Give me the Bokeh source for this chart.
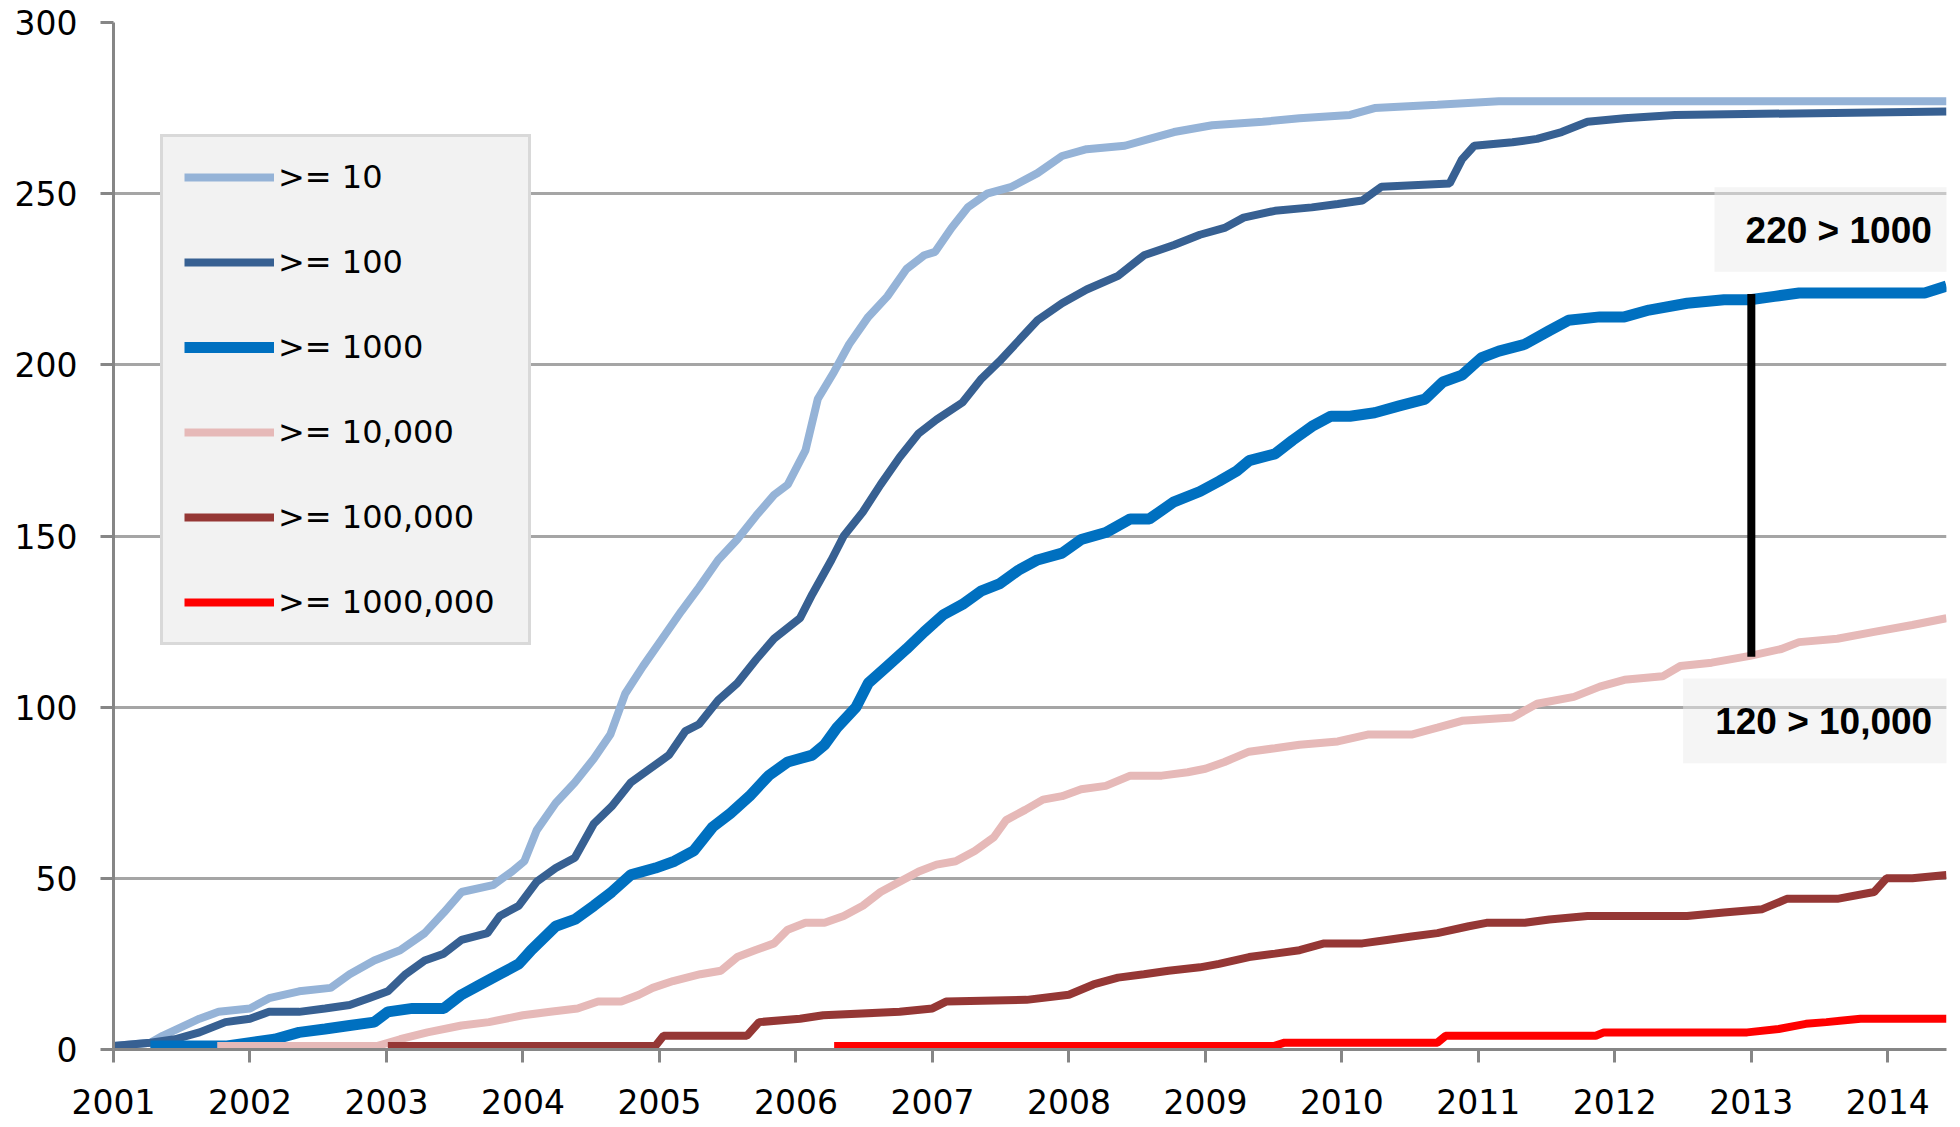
from bokeh.plotting import figure
from bokeh.models import Legend, LegendItem, FixedTicker, Range1d, Label
from bokeh.embed import file_html
from bokeh.resources import INLINE

# ---------------- data (year, count) ----------------
S10 = [(2001.00, 1), (2001.27, 2), (2001.36, 4), (2001.63, 9), (2001.77, 11), (2002.00, 12),
       (2002.14, 15), (2002.36, 17), (2002.59, 18), (2002.73, 22), (2002.91, 26), (2003.10, 29),
       (2003.28, 34), (2003.42, 40), (2003.55, 46), (2003.78, 48), (2003.92, 52), (2004.01, 55),
       (2004.10, 64), (2004.24, 72), (2004.38, 78), (2004.52, 85), (2004.64, 92), (2004.75, 104),
       (2004.88, 112), (2005.02, 120), (2005.16, 128), (2005.29, 135), (2005.43, 143), (2005.57, 149),
       (2005.71, 156), (2005.84, 162), (2005.94, 165), (2006.07, 175), (2006.16, 190), (2006.28, 198),
       (2006.39, 206), (2006.53, 214), (2006.67, 220), (2006.81, 228), (2006.94, 232), (2007.02, 233),
       (2007.14, 240), (2007.26, 246), (2007.40, 250), (2007.58, 252), (2007.77, 256), (2007.95, 261),
       (2008.13, 263), (2008.41, 264), (2008.59, 266), (2008.77, 268), (2009.05, 270), (2009.42, 271),
       (2009.69, 272), (2010.06, 273), (2010.24, 275), (2010.70, 276), (2011.15, 277), (2014.43, 277)]

S100 = [(2001.00, 1), (2001.27, 2), (2001.45, 3), (2001.63, 5), (2001.82, 8), (2002.00, 9),
        (2002.14, 11), (2002.36, 11), (2002.55, 12), (2002.73, 13), (2002.87, 15), (2003.01, 17),
        (2003.14, 22), (2003.28, 26), (2003.42, 28), (2003.55, 32), (2003.74, 34), (2003.83, 39),
        (2003.97, 42), (2004.10, 49), (2004.24, 53), (2004.38, 56), (2004.52, 66), (2004.65, 71),
        (2004.79, 78), (2004.93, 82), (2005.07, 86), (2005.19, 93), (2005.29, 95), (2005.43, 102),
        (2005.57, 107), (2005.71, 114), (2005.84, 120), (2006.03, 126), (2006.12, 133), (2006.26, 143),
        (2006.35, 150), (2006.49, 157), (2006.62, 165), (2006.76, 173), (2006.90, 180), (2007.03, 184),
        (2007.22, 189), (2007.36, 196), (2007.49, 201), (2007.63, 207), (2007.77, 213), (2007.95, 218),
        (2008.13, 222), (2008.36, 226), (2008.55, 232), (2008.77, 235), (2008.96, 238), (2009.14, 240),
        (2009.28, 243), (2009.51, 245), (2009.78, 246), (2009.97, 247), (2010.15, 248), (2010.29, 252),
        (2010.79, 253), (2010.88, 260), (2010.97, 264), (2011.25, 265), (2011.43, 266), (2011.61, 268),
        (2011.80, 271), (2012.07, 272), (2012.44, 273), (2014.43, 274)]

S1000 = [(2001.27, 1), (2001.82, 1), (2002.00, 2), (2002.18, 3), (2002.36, 5), (2002.55, 6),
         (2002.73, 7), (2002.91, 8), (2003.01, 11), (2003.19, 12), (2003.42, 12), (2003.55, 16),
         (2003.69, 19), (2003.83, 22), (2003.97, 25), (2004.06, 29), (2004.24, 36), (2004.38, 38),
         (2004.52, 42), (2004.65, 46), (2004.79, 51), (2004.97, 53), (2005.11, 55), (2005.25, 58),
         (2005.39, 65), (2005.52, 69), (2005.66, 74), (2005.80, 80), (2005.94, 84), (2006.12, 86),
         (2006.21, 89), (2006.30, 94), (2006.44, 100), (2006.53, 107), (2006.67, 112), (2006.81, 117),
         (2006.94, 122), (2007.08, 127), (2007.22, 130), (2007.36, 134), (2007.49, 136), (2007.63, 140),
         (2007.77, 143), (2007.95, 145), (2008.09, 149), (2008.27, 151), (2008.45, 155), (2008.59, 155),
         (2008.77, 160), (2008.96, 163), (2009.10, 166), (2009.23, 169), (2009.32, 172), (2009.51, 174),
         (2009.64, 178), (2009.78, 182), (2009.92, 185), (2010.06, 185), (2010.24, 186), (2010.42, 188),
         (2010.61, 190), (2010.74, 195), (2010.88, 197), (2011.02, 202), (2011.15, 204), (2011.34, 206),
         (2011.52, 210), (2011.66, 213), (2011.89, 214), (2012.07, 214), (2012.25, 216), (2012.53, 218),
         (2012.80, 219), (2012.99, 219), (2013.17, 220), (2013.35, 221), (2013.54, 221), (2013.90, 221),
         (2014.27, 221), (2014.43, 223)]

S10K = [(2001.76, 1), (2002.93, 1), (2003.10, 3), (2003.30, 5), (2003.55, 7), (2003.75, 8),
        (2004.00, 10), (2004.20, 11), (2004.40, 12), (2004.55, 14), (2004.72, 14), (2004.85, 16),
        (2004.95, 18), (2005.10, 20), (2005.30, 22), (2005.45, 23), (2005.57, 27), (2005.70, 29),
        (2005.84, 31), (2005.94, 35), (2006.07, 37), (2006.21, 37), (2006.35, 39), (2006.49, 42),
        (2006.62, 46), (2006.76, 49), (2006.90, 52), (2007.03, 54), (2007.17, 55), (2007.31, 58),
        (2007.45, 62), (2007.54, 67), (2007.68, 70), (2007.81, 73), (2007.95, 74), (2008.09, 76),
        (2008.27, 77), (2008.45, 80), (2008.68, 80), (2008.87, 81), (2009.00, 82), (2009.14, 84),
        (2009.32, 87), (2009.51, 88), (2009.69, 89), (2009.97, 90), (2010.19, 92), (2010.51, 92),
        (2010.70, 94), (2010.88, 96), (2011.25, 97), (2011.43, 101), (2011.70, 103), (2011.89, 106),
        (2012.07, 108), (2012.35, 109), (2012.48, 112), (2012.71, 113), (2012.99, 115), (2013.22, 117),
        (2013.35, 119), (2013.63, 120), (2013.90, 122), (2014.18, 124), (2014.43, 126)]

S100K = [(2003.01, 1), (2004.97, 1), (2005.03, 4), (2005.64, 4), (2005.73, 8), (2006.03, 9),
         (2006.20, 10), (2006.76, 11), (2007.00, 12), (2007.10, 14), (2007.69, 14.5), (2008.00, 16),
         (2008.18, 19), (2008.36, 21), (2008.55, 22), (2008.73, 23), (2008.96, 24), (2009.10, 25),
         (2009.32, 27), (2009.51, 28), (2009.69, 29), (2009.87, 31), (2010.15, 31), (2010.33, 32),
         (2010.51, 33), (2010.70, 34), (2010.93, 36), (2011.06, 37), (2011.34, 37), (2011.52, 38),
         (2011.80, 39), (2012.07, 39), (2012.53, 39), (2012.80, 40), (2013.08, 41), (2013.26, 44),
         (2013.63, 44), (2013.90, 46), (2013.99, 50), (2014.18, 50), (2014.43, 51)]

S1M = [(2006.28, 1), (2009.50, 1), (2009.58, 2), (2010.70, 2), (2010.76, 4), (2011.86, 4),
       (2011.92, 5), (2012.97, 5), (2013.20, 6), (2013.40, 7.5), (2013.55, 8), (2013.80, 9),
       (2014.43, 9)]

SERIES = [S10, S100, S1000, S10K, S100K, S1M]
LABELS = [">= 10", ">= 100", ">= 1000", ">= 10,000", ">= 100,000", ">= 1000,000"]
COLORS = ["#95B3D7", "#376092", "#0070C0", "#E6B9B8", "#953735", "#FF0000"]
WIDTHS = [8, 8, 11, 8, 8, 8]

X_TICKS = list(range(2001, 2015))
Y_TICKS = [0, 50, 100, 150, 200, 250, 300]

# annotation: gap between >=1000 and >=10,000 in 2013
GAP_YEAR = 2013.0
GAP_TOP = 220.7
GAP_BOTTOM = 114.7
NOTE_TOP_TEXT = "220 > 1000"
NOTE_BOTTOM_TEXT = "120 > 10,000"

# ---------------- figure ----------------
p = figure(width=1952, height=1126,
           x_range=Range1d(2001, 2014.43), y_range=Range1d(0, 300),
           output_backend="svg", toolbar_location=None,
           min_border_left=113, min_border_right=6,
           min_border_top=22, min_border_bottom=77)

p.outline_line_color = None
p.background_fill_color = "white"
p.border_fill_color = "white"

p.xgrid.grid_line_color = None
p.ygrid.ticker = FixedTicker(ticks=Y_TICKS)
p.ygrid.grid_line_color = "#A5A5A5"
p.ygrid.grid_line_width = 3

p.xaxis.ticker = FixedTicker(ticks=X_TICKS)
p.yaxis.ticker = FixedTicker(ticks=Y_TICKS)
for ax in (p.xaxis, p.yaxis):
    ax.axis_line_color = "#868686"
    ax.axis_line_width = 3
    ax.major_tick_line_color = "#868686"
    ax.major_tick_line_width = 3
    ax.major_tick_in = 0
    ax.major_tick_out = 13
    ax.minor_tick_line_color = None
    ax.major_label_text_font = "DejaVu Sans"
    ax.major_label_text_font_size = "33px"
    ax.major_label_text_color = "black"
p.xaxis.major_label_standoff = 26
p.yaxis.major_label_standoff = 23

renderers = []
for s, c, w in zip(SERIES, COLORS, WIDTHS):
    xs = [a for a, b in s]
    ys = [b for a, b in s]
    r = p.line(xs, ys, line_color=c, line_width=w)
    renderers.append(r)

# note boxes (semi-transparent)
p.quad(left=[2012.73, 2012.50], right=[2014.6, 2014.6],
       bottom=[227.2, 83.6], top=[251.9, 108.4],
       fill_color="#EBEBEB", fill_alpha=0.5, line_color=None)

# vertical gap line
p.line([GAP_YEAR, GAP_YEAR], [GAP_BOTTOM, GAP_TOP], line_color="black", line_width=8)

p.add_layout(Label(x=2013.64, y=239.2, text=NOTE_TOP_TEXT, text_font="Liberation Sans",
                   text_font_size="37px", text_font_style="bold", text_color="black",
                   text_align="center", text_baseline="middle"))
p.add_layout(Label(x=2013.53, y=95.9, text=NOTE_BOTTOM_TEXT, text_font="Liberation Sans",
                   text_font_size="37px", text_font_style="bold", text_color="black",
                   text_align="center", text_baseline="middle"))

legend = Legend(items=[LegendItem(label=l, renderers=[r]) for l, r in zip(LABELS, renderers)],
                location=(47, 404),
                border_line_color="#BFBFBF", border_line_width=3,
                background_fill_color="#F2F2F2", background_fill_alpha=1.0,
                padding=21, spacing=47, margin=0,
                glyph_width=90, glyph_height=34, label_height=34, label_width=229,
                label_standoff=4,
                label_text_font="DejaVu Sans", label_text_font_size="32px",
                label_text_color="black")
p.add_layout(legend, "center")

open("out.html", "w").write(file_html(p, INLINE))
